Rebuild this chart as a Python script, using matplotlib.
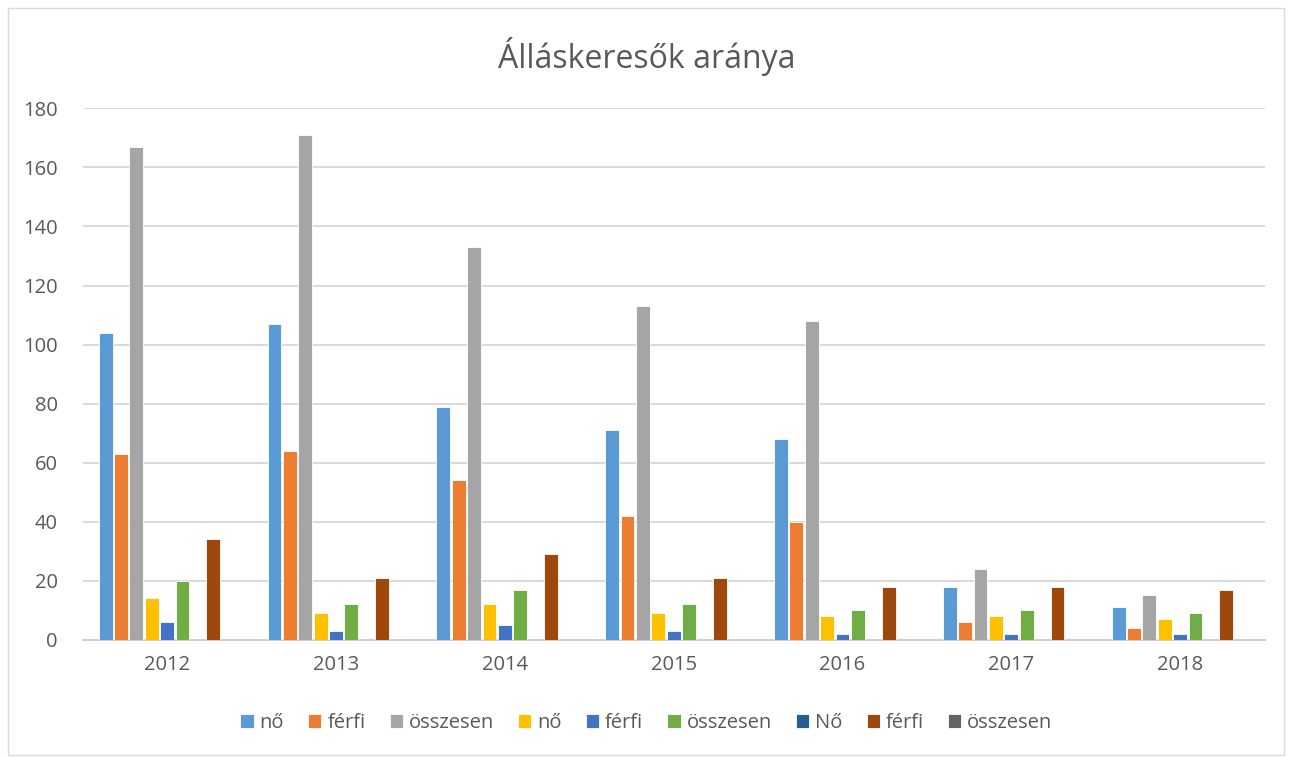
import numpy as np
import matplotlib.pyplot as plt
from matplotlib.patches import Rectangle

years = ["2012", "2013", "2014", "2015", "2016", "2017", "2018"]
labels = ["nő", "férfi", "összesen", "nő", "férfi", "összesen", "Nő", "férfi", "összesen"]
colors = ["#5B9BD5", "#ED7D31", "#A5A5A5", "#FFC000", "#4472C4",
          "#70AD47", "#255E91", "#9E480E", "#636363"]

no_1 = [104, 107, 79, 71, 68, 18, 11]
ferfi_1 = [63, 64, 54, 42, 40, 6, 4]
osszesen_1 = [167, 171, 133, 113, 108, 24, 15]
no_2 = [14, 9, 12, 9, 8, 8, 7]
ferfi_2 = [6, 3, 5, 3, 2, 2, 2]
osszesen_2 = [20, 12, 17, 12, 10, 10, 9]
no_3 = [0, 0, 0, 0, 0, 0, 0]
ferfi_3 = [34, 21, 29, 21, 18, 18, 17]
osszesen_3 = [0, 0, 0, 0, 0, 0, 0]

series = [no_1, ferfi_1, osszesen_1, no_2, ferfi_2, osszesen_2, no_3, ferfi_3, osszesen_3]

plt.rcParams['font.family'] = ['Open Sans', 'DejaVu Sans']

fig = plt.figure(figsize=(12.93, 7.58), dpi=100)
ax = fig.add_axes([0.064, 0.156, 0.914, 0.701])

x = np.arange(len(years))
group = 0.82
slot = group / len(series)
for i, (vals, lab, col) in enumerate(zip(series, labels, colors)):
    pos = x - group / 2 + slot * (i + 0.5)
    ax.bar(pos, vals, width=slot * 0.9, color=col, label=lab,
           edgecolor="white", linewidth=0.6, zorder=3)

ax.set_xlim(-0.5, len(years) - 0.5)
ax.set_ylim(0, 180)
ax.set_yticks(range(0, 181, 20))
ax.set_xticks(x)
ax.set_xticklabels(years)
ax.grid(axis="y", color="#D9D9D9", linewidth=1.4, zorder=0)
for s in ["top", "right", "left"]:
    ax.spines[s].set_visible(False)
ax.spines["bottom"].set_color("#D0D0D0")
ax.spines["bottom"].set_linewidth(1.4)
ax.tick_params(axis="both", length=0, labelsize=14.5, colors="#595959", pad=18)
ax.tick_params(axis="x", pad=11)

fig.text(0.5, 0.925, "Álláskeresők aránya", ha="center", va="center",
         fontsize=23, color="#595959")

fig.legend(loc="center", bbox_to_anchor=(0.5, 0.046), ncol=9, frameon=False,
           fontsize=14.5, handlelength=0.65, handleheight=0.65, handletextpad=0.3,
           columnspacing=1.2, labelcolor="#595959")

fig.patches.append(Rectangle((0.006, 0.004), 0.987, 0.986, transform=fig.transFigure,
                             fill=False, edgecolor="#D9D9D9", linewidth=1))

fig.savefig("out.png", dpi=100)
